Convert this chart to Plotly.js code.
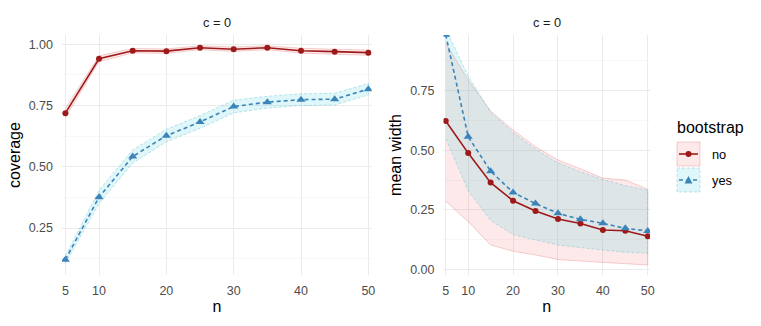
<!DOCTYPE html>
<html>
<head>
<meta charset="utf-8">
<script src="https://cdn.plot.ly/plotly-3.0.1.min.js"></script>
<style>
  html, body { margin: 0; padding: 0; background: #fff; }
  #chart { width: 761px; height: 326px; }
</style>
</head>
<body>
<div id="chart"></div>
<script>
// sample sizes
const n = [5, 10, 15, 20, 25, 30, 35, 40, 45, 50];

// coverage, no bootstrap
const covNo   = [0.719, 0.941, 0.974, 0.972, 0.986, 0.980, 0.986, 0.974, 0.970, 0.966];
const covNoLo = [0.700, 0.929, 0.965, 0.963, 0.978, 0.971, 0.978, 0.964, 0.960, 0.955];
const covNoHi = [0.738, 0.953, 0.983, 0.981, 0.994, 0.989, 0.994, 0.984, 0.980, 0.977];

// coverage, bootstrap
const covYes   = [0.121, 0.376, 0.542, 0.627, 0.683, 0.746, 0.764, 0.774, 0.776, 0.817];
const covYesLo = [0.106, 0.350, 0.515, 0.602, 0.657, 0.720, 0.740, 0.750, 0.752, 0.794];
const covYesHi = [0.136, 0.404, 0.569, 0.653, 0.709, 0.772, 0.788, 0.798, 0.800, 0.840];

// mean width, no bootstrap
const widNo   = [0.623, 0.488, 0.364, 0.288, 0.245, 0.211, 0.192, 0.165, 0.162, 0.139];
const widNoLo = [0.286, 0.200, 0.102, 0.076, 0.060, 0.041, 0.035, 0.029, 0.022, 0.018];
const widNoHi = [0.950, 0.795, 0.665, 0.585, 0.515, 0.459, 0.422, 0.383, 0.375, 0.336];

// mean width, bootstrap
const widYes   = [0.985, 0.557, 0.412, 0.323, 0.276, 0.235, 0.210, 0.193, 0.172, 0.161];
const widYesLo = [0.550, 0.330, 0.205, 0.146, 0.123, 0.102, 0.090, 0.081, 0.072, 0.067];
const widYesHi = [1.010, 0.812, 0.660, 0.575, 0.505, 0.447, 0.410, 0.377, 0.352, 0.332];

const groups = ['no', 'yes'];

const RED = '#9e1a1a';
const BLUE = '#3a84ba';
const RED_FILL = 'rgba(240,110,110,0.15)';
const RED_EDGE = 'rgba(225,110,110,0.3)';
const BLUE_FILL = 'rgba(90,215,225,0.19)';
const BLUE_EDGE = 'rgba(90,190,215,0.4)';

function ribbon(lo, hi, xa, ya, fill, edge, dash) {
    return {
        x: n.concat(n.slice().reverse()),
        y: hi.concat(lo.slice().reverse()),
        xaxis: xa, yaxis: ya,
        type: 'scatter', mode: 'lines',
        fill: 'toself', fillcolor: fill,
        line: { color: edge, width: 1, dash: dash },
        hoverinfo: 'skip', showlegend: false
    };
}

function line(y, xa, ya, color, dash, symbol, size) {
    return {
        x: n, y: y,
        xaxis: xa, yaxis: ya,
        type: 'scatter', mode: 'lines+markers',
        line: { color: color, width: 1.6, dash: dash },
        marker: { color: color, symbol: symbol, size: size },
        showlegend: false
    };
}

const traces = [
    ribbon(covNoLo, covNoHi, 'x', 'y', RED_FILL, RED_EDGE, 'solid'),
    ribbon(covYesLo, covYesHi, 'x', 'y', BLUE_FILL, BLUE_EDGE, '3px,2px'),
    line(covNo, 'x', 'y', RED, 'solid', 'circle', 6),
    line(covYes, 'x', 'y', BLUE, '4px,3px', 'triangle-up', 8),
    ribbon(widNoLo, widNoHi, 'x2', 'y2', RED_FILL, RED_EDGE, 'solid'),
    ribbon(widYesLo, widYesHi, 'x2', 'y2', BLUE_FILL, BLUE_EDGE, '3px,2px'),
    line(widNo, 'x2', 'y2', RED, 'solid', 'circle', 6),
    line(widYes, 'x2', 'y2', BLUE, '4px,3px', 'triangle-up', 8)
];

// plot area in pixels
const M = { l: 62, r: 111, t: 35, b: 51 };
const W = 761, H = 326;
const PW = W - M.l - M.r, PH = H - M.t - M.b;
const px = v => (v - M.l) / PW;
const py = v => (H - M.b - v) / PH;

const tickFont = { family: 'Liberation Sans, Arial, sans-serif', size: 12.5, color: '#4d4d4d' };
const titleFont = { family: 'Liberation Sans, Arial, sans-serif', size: 16, color: '#000' };

function xAxis(domain, anchor) {
    return {
        domain: domain, anchor: anchor, range: [4.5, 50.5],
        tickvals: [5, 10, 20, 30, 40, 50], ticks: '', ticklabelstandoff: 6,
        tickfont: tickFont, showgrid: true, gridcolor: '#ebebeb', gridwidth: 1,
        zeroline: false, showline: false,
        title: { text: 'n', font: titleFont, standoff: 4 }
    };
}

function yAxis(range, tickvals, anchor, title) {
    return {
        domain: [0, 1], anchor: anchor, range: range,
        tickvals: tickvals, tickformat: '.2f', ticks: '', ticklabelstandoff: 8,
        tickfont: tickFont, showgrid: true, gridcolor: '#ebebeb', gridwidth: 1,
        minor: { tickvals: [0.125, 0.375, 0.625, 0.875], showgrid: true, gridcolor: '#f2f2f2', gridwidth: 0.6 },
        zeroline: false, showline: false,
        title: { text: title, font: titleFont, standoff: 4 }
    };
}

// legend keys drawn by hand so they look like boxed ribbon keys
const keyY = [154, 180];
const shapes = [];
const annotations = [];
groups.forEach((g, i) => {
    const cy = keyY[i];
    shapes.push({ type: 'rect', xref: 'paper', yref: 'paper',
        x0: px(677), x1: px(700), y0: py(cy - 12), y1: py(cy + 12),
        fillcolor: i === 0 ? RED_FILL : BLUE_FILL,
        line: { color: i === 0 ? RED_EDGE : BLUE_EDGE, width: 1, dash: i === 0 ? 'solid' : '3px,2px' } });
    shapes.push({ type: 'line', xref: 'paper', yref: 'paper',
        x0: px(679), x1: px(698), y0: py(cy), y1: py(cy),
        line: { color: i === 0 ? RED : BLUE, width: 1.6, dash: i === 0 ? 'solid' : '4px,3px' } });
    if (i === 0) {
        shapes.push({ type: 'circle', xref: 'paper', yref: 'paper',
            x0: px(685.5), x1: px(691.5), y0: py(cy - 3), y1: py(cy + 3),
            fillcolor: RED, line: { color: RED, width: 0 } });
    } else {
        const a = px(684.5), b = px(688.5), c = px(692.5);
        shapes.push({ type: 'path', xref: 'paper', yref: 'paper',
            path: `M ${a} ${py(cy + 3.5)} L ${b} ${py(cy - 4)} L ${c} ${py(cy + 3.5)} Z`,
            fillcolor: BLUE, line: { color: BLUE, width: 0 } });
    }
    annotations.push({ text: g, xref: 'paper', yref: 'paper', x: px(710), y: py(cy),
        xanchor: 'left', yanchor: 'middle', showarrow: false,
        font: { family: 'Liberation Sans, Arial, sans-serif', size: 12.8, color: '#000' } });
});
annotations.push({ text: 'bootstrap', xref: 'paper', yref: 'paper', x: px(675), y: py(127),
    xanchor: 'left', yanchor: 'middle', showarrow: false, font: titleFont });

// facet strips
['x', 'x2'].forEach(xa => {
    annotations.push({ text: 'c = 0', xref: xa + ' domain', yref: 'paper', x: 0.5, y: py(23),
        xanchor: 'center', yanchor: 'middle', showarrow: false,
        font: { family: 'Liberation Sans, Arial, sans-serif', size: 12.8, color: '#1a1a1a' } });
});

const layout = {
    width: W, height: H,
    margin: M,
    paper_bgcolor: '#fff', plot_bgcolor: '#fff',
    showlegend: false,
    xaxis: xAxis([0, 0.5267], 'y'),
    xaxis2: xAxis([0.6488, 1], 'y2'),
    yaxis: yAxis([0.0584, 1.038], [0.25, 0.5, 0.75, 1.0], 'x', 'coverage'),
    yaxis2: yAxis([-0.024, 0.984], [0, 0.25, 0.5, 0.75], 'x2', 'mean width'),
    shapes: shapes,
    annotations: annotations
};

Plotly.newPlot('chart', traces, layout, { staticPlot: true, displayModeBar: false });
</script>
</body>
</html>
